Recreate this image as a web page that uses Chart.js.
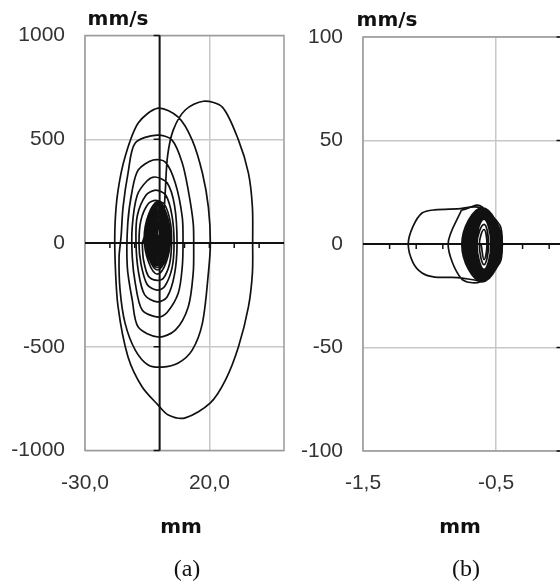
<!DOCTYPE html>
<html>
<head>
<meta charset="utf-8">
<script src="https://cdn.jsdelivr.net/npm/chart.js@4.4.1/dist/chart.umd.min.js"></script>
<style>
  html, body { margin: 0; padding: 0; background: #fff; }
  #wrap { position: relative; width: 560px; height: 584px; overflow: hidden; }
  canvas { position: absolute; top: 0; }
  #chartA { left: 0; }
  #chartB { left: 290px; }
  .lbl { position: absolute; transform: translate(-50%, -50%); white-space: nowrap; color: #111; }
  .unit { font: bold 20px "DejaVu Sans", sans-serif; }
  .cap { font: 24px "Liberation Serif", serif; }
</style>
</head>
<body>
<div id="wrap">
  <canvas id="chartA" width="290" height="584"></canvas>
  <canvas id="chartB" width="345" height="584"></canvas>
  <div class="lbl unit" style="left:118px;top:18px">mm/s</div>
  <div class="lbl unit" style="left:387px;top:19px">mm/s</div>
  <div class="lbl unit" style="left:181px;top:526px">mm</div>
  <div class="lbl unit" style="left:460px;top:526px">mm</div>
  <div class="lbl cap" style="left:187px;top:568px">(a)</div>
  <div class="lbl cap" style="left:466px;top:568px">(b)</div>
</div>
<script>
// (a) displacement mm vs velocity mm/s, first loops read point by point
const pathA = [
  [1, 0], [1.5, 95], [2.3, 255], [3.2, 420], [5.5, 545], [10.3, 641], [17.6, 683],
  [25.2, 655], [31.7, 496], [35.7, 337], [37.3, 173], [37.4, 0],
  [37.3, -145], [35.7, -308], [31.7, -500], [26.5, -660], [20.4, -771], [10.3, -843],
  [3.5, -829], [-0.6, -781], [-7, -694], [-12.7, -549], [-16.7, -308], [-17.9, -82],
  [-17.9, 96], [-16.7, 255], [-13.9, 415], [-8.6, 578], [-0.6, 650], [7.5, 607],
  [13.1, 496], [17.2, 337], [19.6, 173], [20.4, 0],
  [19.6, -145], [17.2, -386], [13.1, -516], [7.5, -578], [1, -598], [-4.6, -588],
  [-9.8, -516], [-13.9, -386], [-15.9, -227], [-16.3, -67],
  [-15.5, 30], [-14.7, 173], [-12.7, 337], [-9.8, 482], [-1, 520], [5, 496],
  [9.1, 386], [11.5, 255], [13.5, 96], [13.7, -20],
  [13.5, -145], [11.5, -308], [6.3, -420], [-0.6, -453], [-8.6, -405], [-11, -275], [-13, -115],
  [-12.8, 96], [-11, 255], [-8.6, 352], [-2.6, 400], [2.3, 390], [6.3, 289], [9.1, 125], [9.4, 0],
  [9.1, -115], [7.5, -241], [3, -335], [-0.5, -357], [-7, -323], [-9.8, -193], [-11, -67],
  [-11, 80], [-9, 230], [-5, 300], [-1.8, 318], [3, 290], [6, 180], [7, 0],
  [6, -150], [3, -260], [-1, -284], [-6, -250], [-8.5, -140], [-9.5, 0],
  [-9, 130], [-5.5, 230], [-1.5, 255], [2.5, 230], [5, 130], [5.8, 0],
  [5, -120], [2, -210], [-1, -227], [-5, -200], [-7.5, -100], [-8.3, 0],
  [-7.5, 110], [-4.5, 190], [-1.5, 205], [2, 185], [4.3, 100], [4.8, 0],
  [4, -100], [1.5, -170], [-1, -180], [-4.5, -160], [-6.5, -80], [-7, 0]
];
// (a) inner loops: left, right, top, bottom
const loopsA = [
  [-6.2, 4.4, 200, -150], [-5.8, 4.1, 196, -130], [-5.4, 3.8, 190, -118],
  [-5.0, 3.5, 184, -108], [-4.6, 3.2, 177, -100], [-4.2, 2.9, 170, -92],
  [-3.8, 2.6, 162, -84], [-3.4, 2.3, 154, -76], [-3.0, 2.0, 146, -68],
  [-2.7, 1.8, 138, -60], [-2.4, 1.6, 130, -52], [-2.1, 1.4, 122, -44],
  [-1.8, 1.2, 114, -36], [-1.5, 1.0, 106, -28], [-1.2, 0.8, 98, -20],
  [-0.9, 0.6, 90, -12], [-0.6, 0.4, 82, -4]
];
const xTicksA = [-30, 20];
const yTicksA = [-1000, -500, 0, 500, 1000];
const minorXA = [-20, -10, 0, 10, 20, 30, 40];

// (b) first two loops read point by point
const pathB = [
  [-0.62, -17.8], [-0.79, -16.2], [-0.96, -16], [-1.056, -14], [-1.124, -9], [-1.16, 0],
  [-1.124, 8.5], [-1.056, 15], [-0.96, 16.5], [-0.79, 17], [-0.62, 17.6],
  [-0.47, 9], [-0.455, 0], [-0.47, -9], [-0.62, -18.3], [-0.76, -16.8], [-0.86, 0], [-0.76, 16.4]
];
// (b) dense loops: left, right, top, bottom
const loopsB = [
  [-0.757, -0.452, 17.9, -18.3], [-0.749, -0.458, 17.5, -17.8], [-0.741, -0.464, 17.1, -17.3],
  [-0.733, -0.470, 16.7, -16.8], [-0.725, -0.476, 16.3, -16.3], [-0.717, -0.482, 15.9, -15.9],
  [-0.709, -0.488, 15.5, -15.5], [-0.701, -0.494, 15.1, -15.1], [-0.693, -0.500, 14.7, -14.7],
  [-0.685, -0.506, 14.2, -14.3], [-0.677, -0.512, 13.8, -13.9], [-0.669, -0.518, 13.4, -13.5],
  [-0.661, -0.524, 13.0, -13.1], [-0.652, -0.531, 12.5, -12.7], [-0.643, -0.538, 12.0, -12.3],
  [-0.625, -0.555, 9.5, -10], [-0.612, -0.568, 7, -7.5]
];
const xTicksB = [-1.5, -0.5];
const yTicksB = [-100, -50, 0, 50, 100];
const minorXB = [-1.3, -1.1, -0.9, -0.7, -0.5, -0.3, -0.1, 0.1, 0.3];

function loopsToPoints(loops) {
  const pts = [];
  loops.forEach(([l, r, top, bottom]) => {
    const mid = (l + r) / 2;
    const vMid = (top + bottom) / 2;
    pts.push({ x: mid, y: top }, { x: r, y: vMid }, { x: mid, y: bottom }, { x: l, y: vMid });
  });
  return pts;
}

const frameAndAxes = {
  id: 'frameAndAxes',
  beforeDatasetsDraw(chart, args, opts) {
    const { ctx, chartArea: a, scales: { x, y } } = chart;
    ctx.save();
    ctx.strokeStyle = '#9a9a9a';
    ctx.lineWidth = 1.5;
    ctx.strokeRect(a.left, a.top, a.right - a.left, a.bottom - a.top);
    const x0 = x.getPixelForValue(0);
    const y0 = y.getPixelForValue(0);
    ctx.strokeStyle = '#111';
    ctx.lineWidth = 2;
    ctx.beginPath();
    ctx.moveTo(a.left, y0);
    ctx.lineTo(a.right, y0);
    ctx.moveTo(x0, a.top);
    ctx.lineTo(x0, a.bottom);
    ctx.stroke();
    ctx.lineWidth = 1.5;
    ctx.beginPath();
    opts.minorX.forEach((v) => {
      const px = x.getPixelForValue(v);
      ctx.moveTo(px, y0);
      ctx.lineTo(px, y0 + 5);
    });
    opts.yTicks.forEach((v) => {
      const py = y.getPixelForValue(v);
      ctx.moveTo(x0 - 6, py);
      ctx.lineTo(x0, py);
    });
    ctx.stroke();
    ctx.restore();
  }
};

function createPhasePlot(canvasId, cfg) {
  const line = { showLine: true, pointRadius: 0, borderColor: '#111', borderWidth: 1.7, fill: false };
  const last = cfg.path[cfg.path.length - 1];
  /* eslint-disable no-new */
  new Chart(document.getElementById(canvasId), {
    type: 'scatter',
    data: {
      datasets: [
        { ...line, tension: 0.3, data: cfg.path.map(([x, y]) => ({ x, y })) },
        { ...line, tension: 0.45, data: [{ x: last[0], y: last[1] }].concat(loopsToPoints(cfg.loops)) }
      ]
    },
    plugins: [frameAndAxes],
    options: {
      responsive: false,
      animation: false,
      devicePixelRatio: 1,
      events: [],
      layout: { padding: { top: cfg.top, right: 6, left: 0, bottom: 0 } },
      plugins: {
        legend: { display: false },
        tooltip: { enabled: false },
        frameAndAxes: { minorX: cfg.minorX, yTicks: cfg.yTicks }
      },
      scales: {
        x: {
          type: 'linear',
          min: cfg.xMin,
          max: cfg.xMax,
          afterBuildTicks: (s) => { s.ticks = cfg.xTicks.map((value) => ({ value })); },
          afterFit: (s) => { s.height = 584 - cfg.bottom; },
          grid: { color: '#c8c8c8', lineWidth: 1.5, drawTicks: false },
          border: { display: false },
          ticks: {
            padding: 20,
            color: '#333',
            font: { family: 'Liberation Sans', size: 21 },
            maxRotation: 0,
            autoSkip: false,
            callback: (v) => v.toFixed(1).replace('.', ',')
          }
        },
        y: {
          type: 'linear',
          min: cfg.yMin,
          max: cfg.yMax,
          afterBuildTicks: (s) => { s.ticks = cfg.yTicks.map((value) => ({ value })); },
          afterFit: (s) => { s.width = cfg.yWidth; },
          grid: { color: '#c8c8c8', lineWidth: 1.5, drawTicks: false },
          border: { display: false },
          ticks: {
            padding: 20,
            color: '#333',
            font: { family: 'Liberation Sans', size: 21 },
            callback: (v) => String(v)
          }
        }
      }
    }
  });
}

createPhasePlot('chartA', {
  path: pathA, loops: loopsA, xTicks: xTicksA, yTicks: yTicksA, minorX: minorXA,
  xMin: -30, xMax: 50, yMin: -1000, yMax: 1000, yWidth: 85, top: 35.5, bottom: 450.5
});
createPhasePlot('chartB', {
  path: pathB, loops: loopsB, xTicks: xTicksB, yTicks: yTicksB, minorX: minorXB,
  xMin: -1.5, xMax: 0.5, yMin: -100, yMax: 100, yWidth: 73, top: 37, bottom: 451
});
</script>
</body>
</html>
